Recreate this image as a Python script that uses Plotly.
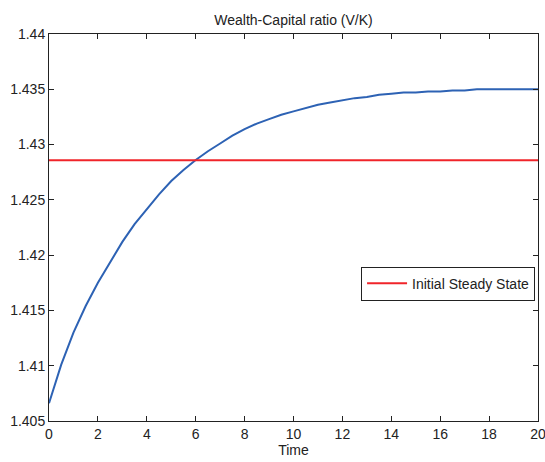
import plotly.graph_objects as go

# Time path of the wealth-capital ratio
time = [0, 0.5, 1, 1.5, 2, 2.5, 3, 3.5, 4, 4.5, 5, 5.5, 6, 6.5, 7, 7.5, 8, 8.5, 9, 9.5,
        10, 10.5, 11, 11.5, 12, 12.5, 13, 13.5, 14, 14.5, 15, 15.5, 16, 16.5, 17, 17.5,
        18, 18.5, 19, 19.5, 20]
wealth_capital = [1.4066, 1.4101, 1.4130, 1.4154, 1.4175, 1.4194, 1.4212, 1.4228, 1.4242,
                  1.4255, 1.4267, 1.4277, 1.4286, 1.4294, 1.4301, 1.4308, 1.4314, 1.4319,
                  1.4323, 1.4327, 1.4330, 1.4333, 1.4336, 1.4338, 1.4340, 1.4342, 1.4343,
                  1.4345, 1.4346, 1.4347, 1.4347, 1.4348, 1.4348, 1.4349, 1.4349, 1.4350,
                  1.4350, 1.4350, 1.4350, 1.4350, 1.4350]
initial_steady_state = 1.428571

x_ticks = list(range(0, 21, 2))
y_ticks = [1.405, 1.41, 1.415, 1.42, 1.425, 1.43, 1.435, 1.44]
y_tick_labels = ["1.405", "1.41", "1.415", "1.42", "1.425", "1.43", "1.435", "1.44"]

FONT = "Liberation Sans, Arial, sans-serif"
INK = "#222222"

fig = go.Figure()
fig.add_trace(go.Scatter(
    x=time, y=wealth_capital, mode="lines",
    line=dict(color="#2d62b4", width=2),
    showlegend=False,
))
fig.add_trace(go.Scatter(
    x=[time[0], time[-1]], y=[initial_steady_state, initial_steady_state],
    mode="lines", line=dict(color="#f0242a", width=2),
    name="Initial Steady State",
))

axis_common = dict(
    showgrid=False, zeroline=False, showline=True, linecolor=INK, linewidth=1,
    mirror="ticks", ticks="inside", ticklen=5, tickcolor=INK, automargin=False,
    ticklabeloverflow="allow",
    tickfont=dict(family=FONT, size=14, color=INK),
)

fig.update_layout(
    width=545, height=462,
    margin=dict(l=49, r=7, t=34, b=41),
    paper_bgcolor="white", plot_bgcolor="white",
    font=dict(family=FONT, size=14, color=INK),
    title=dict(text="Wealth-Capital ratio (V/K)", x=0.5, xref="paper", xanchor="center",
               y=1, yref="paper", yanchor="bottom", pad=dict(b=9),
               font=dict(family=FONT, size=14, color=INK)),
    xaxis=dict(range=[0, 20], tickvals=x_ticks,
               title=dict(text="Time", standoff=4, font=dict(family=FONT, size=14, color=INK)),
               **axis_common),
    yaxis=dict(range=[1.405, 1.44], tickvals=y_ticks, ticktext=y_tick_labels, **axis_common),
    legend=dict(x=0.994, y=0.355, xanchor="right", yanchor="middle",
                bgcolor="white", bordercolor=INK, borderwidth=1, itemwidth=40,
                font=dict(family=FONT, size=14, color=INK)),
)

fig.write_html("out.html")
